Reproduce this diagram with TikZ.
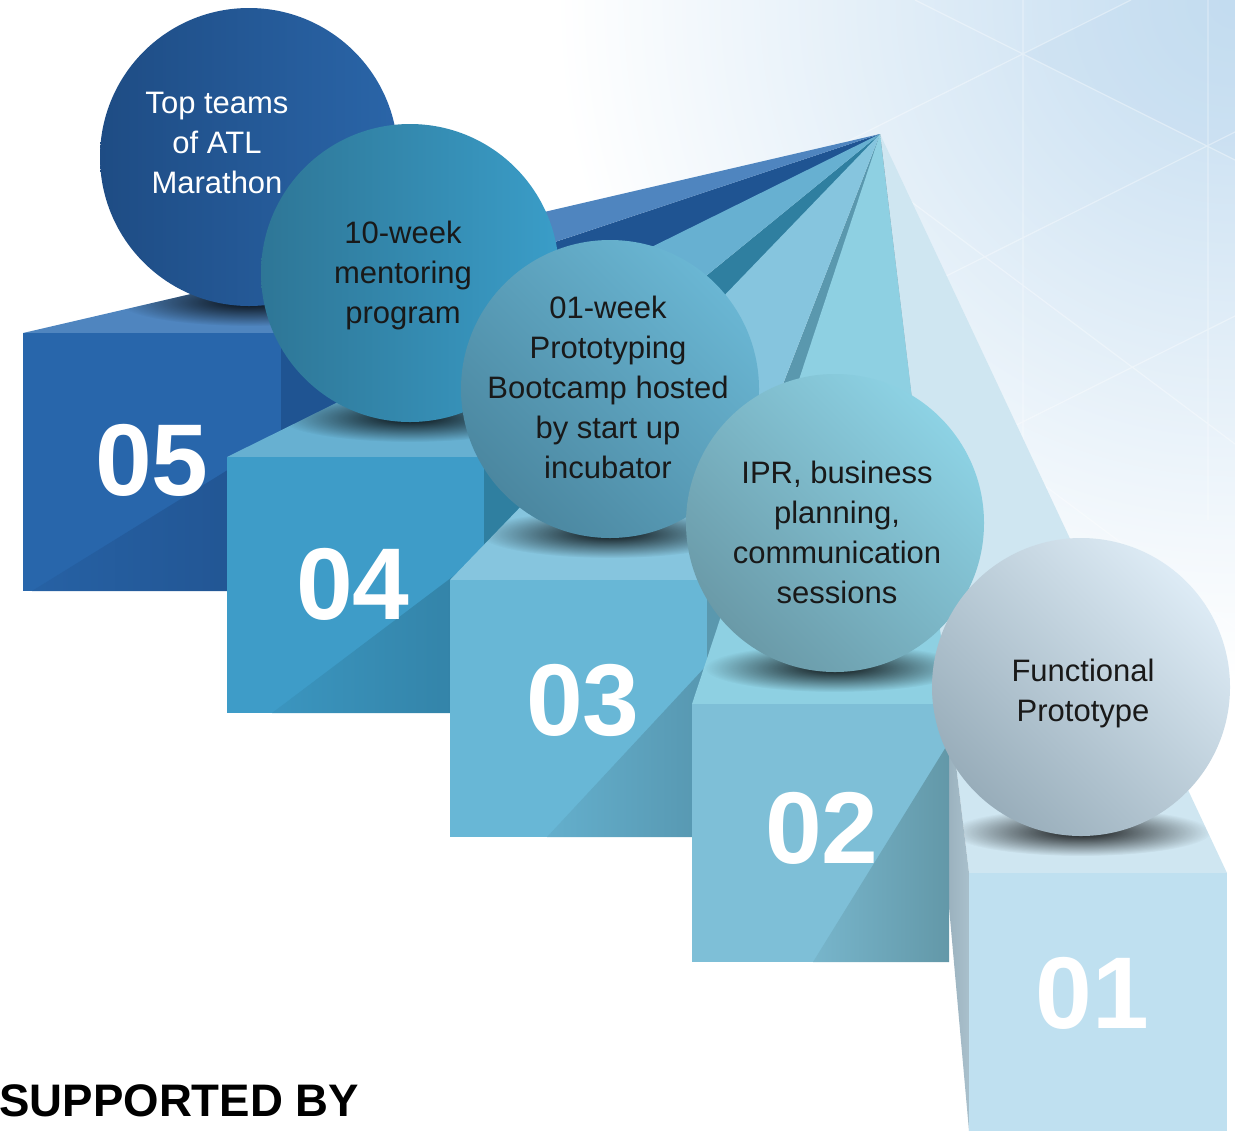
\documentclass[tikz,border=0pt]{standalone}
\usepackage{fontspec}
\setmainfont{Liberation Sans}
\usetikzlibrary{fadings}

\definecolor{bgblue}{HTML}{C3DCF0}
% steps: front, dark corner, top, side
\definecolor{fiveF}{HTML}{2866AB}
\definecolor{fiveD}{HTML}{215390}
\definecolor{fiveT}{HTML}{4F85BF}
\definecolor{fiveS}{HTML}{1F5492}
\definecolor{fourF}{HTML}{3E9CC8}
\definecolor{fourD}{HTML}{3281A5}
\definecolor{fourT}{HTML}{67B0D1}
\definecolor{fourS}{HTML}{2F7FA0}
\definecolor{threeF}{HTML}{68B7D6}
\definecolor{threeD}{HTML}{5797B0}
\definecolor{threeT}{HTML}{86C5DE}
\definecolor{threeS}{HTML}{5A98AE}
\definecolor{twoF}{HTML}{7EBFD7}
\definecolor{twoD}{HTML}{6398A8}
\definecolor{twoT}{HTML}{8ED0E2}
\definecolor{oneF}{HTML}{BFE0F0}
\definecolor{oneT}{HTML}{CFE6F1}
\definecolor{oneSa}{HTML}{6C8290}
\definecolor{oneSb}{HTML}{A9C0CC}
% balls
\definecolor{ballfiveA}{HTML}{1E4C84}
\definecolor{ballfiveB}{HTML}{2A65A8}
\definecolor{ballfourA}{HTML}{2E7696}
\definecolor{ballfourB}{HTML}{3A9DC8}
\definecolor{ballthreeA}{HTML}{4B87A0}
\definecolor{ballthreeB}{HTML}{6AB6D3}
\definecolor{balltwoA}{HTML}{6A9AA8}
\definecolor{balltwoB}{HTML}{8DD2E4}
\definecolor{balloneA}{HTML}{98ADBA}
\definecolor{balloneB}{HTML}{DDEBF5}

\tikzfading[name=ballshade, inner color=transparent!0, outer color=transparent!100]

\tikzset{
  numtext/.style={text=white, inner sep=0pt, font=\fontsize{51}{51}\selectfont\bfseries},
  bubtext/.style={align=center, inner sep=0pt, text=black!90, font=\fontsize{15.5}{20}\selectfont},
  bubble/.style={circle, minimum size=149pt, inner sep=0pt},
  ballshadow/.style={black, opacity=.9, path fading=ballshade},
}

\begin{document}
\begin{tikzpicture}[x=0.5pt,y=-0.5pt]
\useasboundingbox (0,0) rectangle (1235,1131);

% faint facets, upper right
\begin{scope}
\clip (0,0) rectangle (1235,1131);
\shade[inner color=bgblue, outer color=white] (1235,0) circle [radius=340pt];
\fill[bgblue, opacity=.3] (1023,54) -- (1131,0) -- (1235,0) -- (1235,160) -- (1208,146) -- cycle;
\draw[white, opacity=.35, line width=.6pt]
  (1023,0) -- (1023,520) (1208,0) -- (1208,520)
  (915,0) -- (1235,160) (830,141) -- (1235,444) (830,325) -- (1235,628)
  (1131,0) -- (830,150) (1235,132) -- (830,334) (1235,316) -- (830,518);
\end{scope}

\coordinate (vp) at (880,134);

% 05
\fill[fiveS] (281,333) -- (vp) -- (281,591) -- cycle;
\fill[fiveT] (23,333) -- (vp) -- (281,333) -- cycle;
\fill[fiveF] (23,333) rectangle (281,591);
\shade[left color=fiveF!75!fiveD, right color=fiveD] (32,591) -- (281,437) -- (281,591) -- cycle;
\node[numtext] (n5) at (152,460) {05};
\begin{scope}
\clip (23,333) -- (vp) -- (281,333) -- cycle;
\fill[ballshadow] (249,302) ellipse [x radius=65pt, y radius=12pt];
\end{scope}
\node[bubble, left color=ballfiveA, right color=ballfiveB] (b5) at (249,157) {};
\node[bubtext, text=white] (t5) at (217,143) {Top teams\\of ATL\\Marathon};

% 04
\fill[fourS] (484,457) -- (vp) -- (484,713) -- cycle;
\fill[fourT] (227,457) -- (vp) -- (484,457) -- cycle;
\fill[fourF] (227,457) rectangle (484,713);
\shade[left color=fourF!75!fourD, right color=fourD] (272,713) -- (484,553) -- (484,713) -- cycle;
\node[numtext] (n4) at (353,584) {04};
\begin{scope}
\clip (227,457) -- (vp) -- (484,457) -- cycle;
\fill[ballshadow] (410,418) ellipse [x radius=65pt, y radius=12pt];
\end{scope}
\node[bubble, left color=ballfourA, right color=ballfourB] (b4) at (410,273) {};
\node[bubtext] (t4) at (403,275) {10-week\\mentoring\\program};

% 03
\fill[threeS] (707,580) -- (vp) -- (707,837) -- cycle;
\fill[threeT] (450,580) -- (vp) -- (707,580) -- cycle;
\fill[threeF] (450,580) rectangle (707,837);
\shade[left color=threeF!75!threeD, right color=threeD] (547,837) -- (707,665) -- (707,837) -- cycle;
\node[numtext] (n3) at (583,700) {03};
\begin{scope}
\clip (450,580) -- (vp) -- (707,580) -- cycle;
\fill[ballshadow] (610,534) ellipse [x radius=65pt, y radius=12pt];
\end{scope}
\node[bubble, top color=ballthreeB, bottom color=ballthreeA, shading angle=-45] (b3) at (610,389) {};
\node[bubtext] (t3) at (608,387) {01-week\\Prototyping\\Bootcamp hosted\\by start up\\incubator};

% 01 sits behind the face of 02
\fill[oneT] (969,873) -- (vp) -- (1227,873) -- cycle;
\shade[left color=oneSa, right color=oneSb] (969,873) -- (vp) -- (969,1131) -- cycle;
\fill[oneF] (969,873) rectangle (1227,1131);
\node[numtext] (n1) at (1092,993) {01};

% 02
\fill[twoT] (692,704) -- (vp) -- (949,704) -- cycle;
\fill[twoF] (692,704) rectangle (949,962);
\shade[left color=twoF!75!twoD, right color=twoD] (813,962) -- (949,742) -- (949,962) -- cycle;
\node[numtext] (n2) at (822,828) {02};
\begin{scope}
\clip (692,704) -- (vp) -- (949,704) -- cycle;
\fill[ballshadow] (835,668) ellipse [x radius=65pt, y radius=12pt];
\end{scope}
\node[bubble, top color=balltwoB, bottom color=balltwoA, shading angle=-45] (b2) at (835,523) {};
\node[bubtext] (t2) at (837,532) {IPR, business\\planning,\\communication\\sessions};

\begin{scope}
\clip (969,873) -- (vp) -- (1227,873) -- cycle;
\fill[ballshadow] (1081,832) ellipse [x radius=65pt, y radius=12pt];
\end{scope}
\node[bubble, top color=balloneB, bottom color=balloneA, shading angle=-45] (b1) at (1081,687) {};
\node[bubtext] (t1) at (1083,693) {Functional\\Prototype};

\node[anchor=south west, inner sep=0pt, font=\fontsize{22.8}{22.8}\selectfont\bfseries] (sup) at (-1,1117) {SUPPORTED BY};
\end{tikzpicture}
\end{document}
